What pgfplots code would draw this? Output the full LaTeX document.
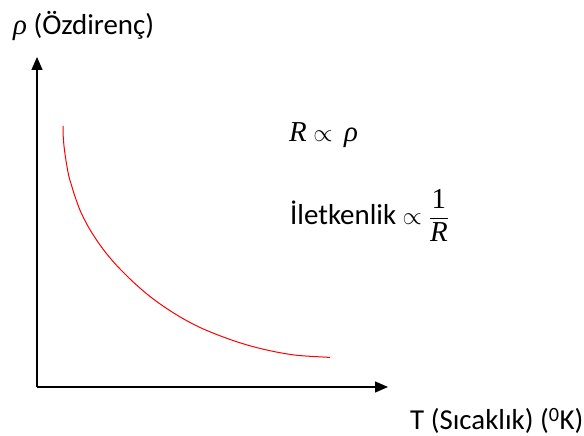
\documentclass[border=0pt]{standalone}
\usepackage{amsmath}
\usepackage{fontspec}
\setmainfont{Carlito}
\newfontfamily\cambria{Liberation Serif}
\usepackage{pgfplots}
\pgfplotsset{compat=1.18}
\usetikzlibrary{arrows.meta}
\begin{document}
\begin{tikzpicture}
\begin{axis}[x=1bp,y=1bp,xmin=0,xmax=584,ymin=0,ymax=436,hide axis,scale only axis,clip=false,
  axis line style={draw=none}]
\addplot[draw=none,forget plot] coordinates {(0,0) (584,436)};
\addplot[black,line width=1.3bp,-{Triangle[length=13bp,width=11bp]}] coordinates {(37,49) (37,379)};
\addplot[black,line width=1.3bp,-{Triangle[length=13bp,width=11bp]}] coordinates {(37,49) (388,49)};
\addplot[red,line width=1bp,smooth,tension=0.55] coordinates {
(63,310) (63.2,300) (64,290) (65.3,280) (66.9,270) (68.8,260) (71.7,250) (73.5,244) (80,225.8) (88.3,209.2) (96.7,195.8) (105,184.3) (116.7,170.5) (133.3,153.9) (150,139.5) (166.7,127.5) (183.3,117.2) (200,108.5) (216.7,101.5) (233.3,95.4) (250,90.2) (266.7,86) (283.3,82.7) (300,80.4) (330,78.6)};
\node[anchor=base west,inner sep=0pt,font=\fontsize{29}{34}\selectfont] at (axis cs:13,401) {{\cambria\itshape ρ} (Özdirenç)};
\node[anchor=base west,inner sep=0pt,font=\fontsize{29}{34}\selectfont] at (axis cs:289,294) {{\cambria\itshape R} $\propto$\, {\cambria\itshape ρ}};
\node[anchor=base west,inner sep=0pt,font=\fontsize{29}{34}\selectfont] at (axis cs:290,211) {İletkenlik $\propto \dfrac{\mbox{\cambria 1}}{\mbox{\cambria\itshape R}}$};
\node[anchor=base west,inner sep=0pt,font=\fontsize{29}{34}\selectfont] at (axis cs:410,6) {T (Sıcaklık) (\textsuperscript{0}K)};
\end{axis}
\end{tikzpicture}
\end{document}
